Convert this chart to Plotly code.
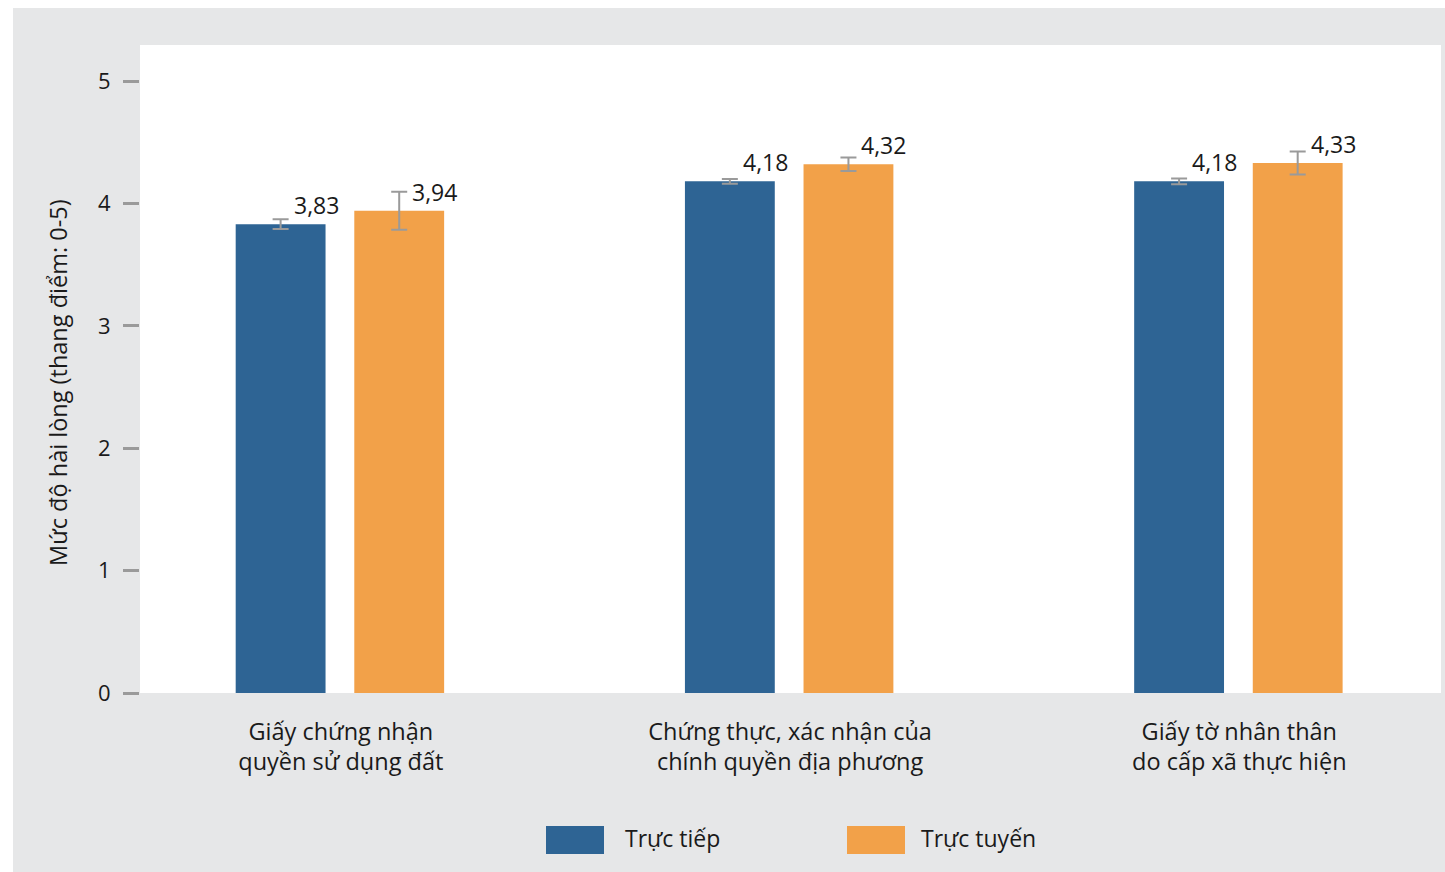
import plotly.graph_objects as go

# Survey results: satisfaction score (0-5) by procedure and service channel
categories = [
    "Giấy chứng nhận<br>quyền sử dụng đất",
    "Chứng thực, xác nhận của<br>chính quyền địa phương",
    "Giấy tờ nhân thân<br>do cấp xã thực hiện",
]
series_names = ["Trực tiếp", "Trực tuyến"]
truc_tiep = [3.83, 4.18, 4.18]
truc_tuyen = [3.94, 4.32, 4.33]
truc_tiep_err = [0.04, 0.02, 0.023]
truc_tuyen_err = [0.155, 0.055, 0.094]
y_ticks = [0, 1, 2, 3, 4, 5]
y_title = "Mức độ hài lòng (thang điểm: 0-5)"

BLUE = "#2e6494"
ORANGE = "#f2a149"
BG = "#e6e7e8"
TEXT = "#1a1a1a"
FONT = "Open Sans"

W, H = 1445, 872
ML, MR, MT, MB = 140, 4, 45, 179
PW, PH = W - ML - MR, H - MT - MB

x_pos = list(range(len(categories)))
bar_w = 0.2
offsets = [-0.234, 0.030]
series = [
    (series_names[0], truc_tiep, truc_tiep_err, BLUE, offsets[0]),
    (series_names[1], truc_tuyen, truc_tuyen_err, ORANGE, offsets[1]),
]


def fmt(v):
    return f"{v:.2f}".replace(".", ",")


fig = go.Figure()
annotations = []
for name, vals, errs, color, off in series:
    fig.add_trace(go.Bar(
        x=x_pos, y=vals, name=name, width=bar_w, offset=off,
        marker=dict(color=color, line=dict(width=0)),
        error_y=dict(type="data", array=errs, visible=True,
                     color="#9a9a9a", thickness=2, width=8),
        showlegend=False,
    ))
    for xi, v in zip(x_pos, vals):
        annotations.append(dict(
            x=xi + off + bar_w / 2, y=v, xref="x", yref="y",
            text=fmt(v), showarrow=False, xanchor="left", yanchor="bottom",
            xshift=11, yshift=1, font=dict(family=FONT, size=23, color=TEXT),
        ))


def px_x(p):
    return (p - ML) / PW


def px_y(p):
    return (H - MB - p) / PH


# Vertical axis title
annotations.append(dict(x=px_x(58), y=px_y(383), xref="paper", yref="paper",
                        text=y_title, textangle=-90, showarrow=False,
                        xanchor="center", yanchor="middle",
                        font=dict(family=FONT, size=23.5, color=TEXT)))

# Legend drawn as large swatches with labels beneath the plot
legend_items = [(series_names[0], BLUE, 546, 604, 623),
                (series_names[1], ORANGE, 847, 905, 919)]
shapes = [
    dict(type="rect", xref="paper", yref="paper", layer="below",
         x0=px_x(13), x1=px_x(W + 5), y0=px_y(H + 5), y1=px_y(8),
         fillcolor=BG, line=dict(width=0)),
    dict(type="rect", xref="paper", yref="paper", layer="below",
         x0=0, x1=1, y0=0, y1=1, fillcolor="white", line=dict(width=0)),
]
for name, color, bx0, bx1, tx in legend_items:
    shapes.append(dict(type="rect", xref="paper", yref="paper",
                       x0=px_x(bx0), x1=px_x(bx1), y0=px_y(854), y1=px_y(826),
                       fillcolor=color, line=dict(width=0)))
    annotations.append(dict(x=px_x(tx), y=px_y(838), xref="paper", yref="paper",
                            text=name, showarrow=False, xanchor="left",
                            yanchor="middle",
                            font=dict(family=FONT, size=23, color=TEXT)))

fig.update_layout(
    width=W, height=H,
    margin=dict(l=ML, r=MR, t=MT, b=MB, pad=0),
    paper_bgcolor="white", plot_bgcolor="rgba(0,0,0,0)",
    barmode="overlay",
    font=dict(family=FONT, size=22, color=TEXT),
    shapes=shapes, annotations=annotations,
    xaxis=dict(
        range=[-0.447, 2.449], tickmode="array", tickvals=x_pos,
        ticktext=categories, showgrid=False, zeroline=False, showline=False,
        ticks="", ticklabelstandoff=22,
        tickfont=dict(family=FONT, size=23.5, color=TEXT),
    ),
    yaxis=dict(
        range=[0, PH / 122.4], tickmode="array", tickvals=y_ticks,
        showgrid=False, zeroline=False, showline=False,
        ticks="outside", ticklen=16, tickwidth=3, tickcolor="#9a9a9a",
        ticklabelstandoff=8,
        tickfont=dict(family=FONT, size=22, color=TEXT),
    ),
)

fig.write_html("out.html")
